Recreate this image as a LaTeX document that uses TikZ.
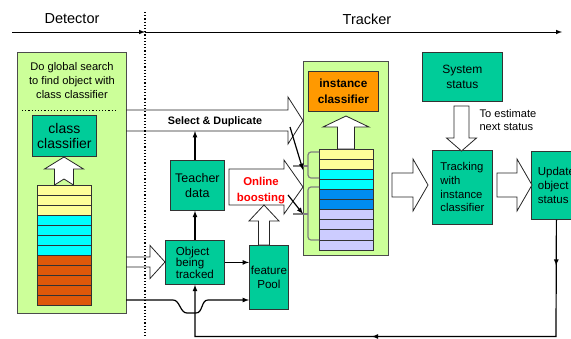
\documentclass[tikz,border=0pt]{standalone}
\usepackage{fontspec}
\setmainfont{Liberation Sans}
\usetikzlibrary{decorations.markings}

\definecolor{boxgreen}{RGB}{0,204,153}
\definecolor{panelgreen}{RGB}{204,255,153}
\definecolor{orangebox}{RGB}{255,153,0}
\definecolor{cyel}{RGB}{255,255,153}
\definecolor{ccyan}{RGB}{0,255,255}
\definecolor{cbrown}{RGB}{222,88,10}
\definecolor{cblue}{RGB}{0,140,240}
\definecolor{clav}{RGB}{204,204,255}
\newcommand{\fs}[2]{\fontsize{#1}{#2}\selectfont}

\begin{document}
\begin{tikzpicture}[x=1pt,y=-1pt,
    box/.style={draw=black!80,fill=boxgreen,line width=0.8pt,inner sep=0pt,anchor=north west,align=center},
    panel/.style={draw=black!70,fill=panelgreen,line width=0.8pt,inner sep=0pt,anchor=north west},
    hollow/.style={draw=black!85,line width=0.8pt},
    cell/.style={draw=black!80,line width=0.7pt},
    link/.style={-latex,line width=1.2pt},
    brace/.style={draw=gray,line width=1.2pt,rounded corners=3pt},
    feedback/.style={-latex,line width=1.2pt,postaction={decorate},
      decoration={markings,mark=at position 46pt with {\arrow{latex}},
        mark=at position 301pt with {\arrow{latex}}}}]
  \useasboundingbox (0,0) rectangle (571,338);

  % header
  \node[font=\fs{14.5}{16}] (detlbl) at (72,19) {Detector};
  \node[font=\fs{14.5}{16}] (trklbl) at (367,19) {Tracker};
  \coordinate (hl) at (12,32);
  \coordinate (hm) at (145,32);
  \coordinate (hr) at (562,32);
  \draw[-latex,line width=1pt] (hl) -- (hm);
  \draw[-latex,line width=1pt] (hm) -- (hr);

  % detector part
  \node[panel,minimum width=109pt,minimum height=261pt] (detbox) at (17,52) {};
  \node[align=center,font=\fs{11.1}{14}] (search) at (72,81)
    {Do global search\\to find object with\\class classifier};
  \draw[dotted,line width=1.2pt] (22,110.5) -- (116,110.5);
  \node[box,minimum width=64pt,minimum height=41pt,font=\fs{14}{15}] (cls) at (32,115) {class\\classifier};
  \foreach \c [count=\i from 0] in {cyel,cyel,cyel,ccyan,ccyan,ccyan,ccyan,cbrown,cbrown,cbrown,cbrown,cbrown}
    \draw[cell,fill=\c] (37,185+10*\i) rectangle ++(54,10);
  \draw[hollow,fill=white] (54.5,185) -- (54.5,169) -- (44.5,169) -- (64,157) -- (83.5,169)
    -- (73.5,169) -- (73.5,185) -- (64,179) -- cycle;

  % tracker part
  \node[panel,minimum width=85pt,minimum height=194pt] (instpanel) at (303,61) {};
  \node[box,fill=orangebox,minimum width=70pt,minimum height=40pt,font=\bfseries\fs{11.8}{16}] (inst) at (308,71)
    {instance\\classifier};
  \foreach \c [count=\i from 0] in {cyel,cyel,ccyan,ccyan,cblue,cblue,clav,clav,clav,clav}
    \draw[cell,fill=\c] (319,149+10.1*\i) rectangle ++(54,10.1);
  \draw[hollow,fill=white] (337.5,149) -- (337.5,127) -- (323,127) -- (346,116) -- (369,127)
    -- (354.5,127) -- (354.5,149) -- cycle;

  \node[box,minimum width=54pt,minimum height=50pt,font=\fs{12.5}{15}] (teach) at (170,160) {Teacher\\data};
  \node[box,minimum width=59pt,minimum height=44pt,align=left,font=\fs{11.6}{11.5}] (obj) at (165,240)
    {Object\\being\\tracked};
  \node[box,minimum width=39pt,minimum height=64pt,font=\fs{11.6}{14}] (feat) at (249,245) {feature\\Pool};
  \node[box,minimum width=80pt,minimum height=49pt,font=\fs{12}{15}] (sys) at (422,52) {System\\status};
  \node[box,minimum width=60pt,minimum height=74pt,align=left,font=\fs{11.3}{13.7}] (track) at (432,150)
    {Tracking\\with\\instance\\classifier};
  \node[box,minimum width=50pt,minimum height=68pt,align=left,font=\fs{11.5}{14}] (upd) at (531,151)
    {Update\\object\\status};

  % hollow arrows
  \draw[hollow] (126,110) -- (288,110) -- (288,97) -- (303,120.5) -- (288,144) -- (288,131) -- (126,131);
  \node[font=\bfseries\fs{10.8}{12}] (seldup) at (215,122) {Select \& Duplicate};
  \draw[hollow,fill=white] (229,169) -- (284,169) -- (284,160) -- (303,187) -- (284,214)
    -- (284,205) -- (229,205) -- cycle;
  \node[align=center,text=red,font=\bfseries\fs{11.4}{16}] (boost) at (261,191) {Online\\boosting};
  \draw[hollow,fill=white] (258.5,245) -- (258.5,221) -- (249,221) -- (264,205) -- (279,221)
    -- (269.5,221) -- (269.5,245) -- cycle;
  \draw[hollow] (126,257) -- (150,257) -- (150,245.5) -- (165,262) -- (150,278.5) -- (150,267) -- (126,267);
  \draw[hollow,fill=white] (392,173) -- (413,173) -- (413,159) -- (428,185) -- (413,211)
    -- (413,197) -- (392,197) -- cycle;
  \draw[hollow,fill=white] (497,173) -- (517,173) -- (517,159) -- (532,185) -- (517,211)
    -- (517,197) -- (497,197) -- cycle;
  \draw[hollow,fill=white] (454,106) -- (469,106) -- (469,138) -- (476.5,138) -- (461.5,151)
    -- (446.5,138) -- (454,138) -- cycle;
  \node[anchor=west,align=left,font=\fs{11.1}{13}] (estim) at (476,120.5) {To estimate\\next status};

  % braces
  \draw[brace] (319,152) -| (308,178) -- (319,178);
  \draw[brace] (293,166) -- (308,166);
  \draw[brace] (319,187) -| (308,240) -- (319,240);
  \draw[brace] (293,214) -- (308,214);

  % connectors
  \coordinate (sdbot) at (195,131);
  \coordinate (sdh) at (290,127);
  \coordinate (obh) at (288,195);
  \coordinate (b1) at (303,170);
  \coordinate (b2) at (303,214);
  \draw[link] (teach.north -| sdbot) -- (sdbot);
  \draw[link] (obj.north -| sdbot) -- (teach.south -| sdbot);
  \draw[link] (obj.east) -- (obj.east -| feat.west);
  \draw[link] (sdh) -- (b1);
  \draw[link] (obh) -- (b2);
  \coordinate (dp) at (126,300);
  \draw[link] (dp) -- ++(47,0) .. controls +(7,0) and +(-7,0) .. ++(14,13) -- ++(9,0)
    .. controls +(7,0) and +(-7,0) .. ++(12,-13) -- (feat.west |- dp);
  \coordinate (br) at (556,336.5);
  \coordinate (bl) at (195,336.5);
  \draw[feedback] (upd.south) -- (br) -- (bl) -- (obj.south -| bl);

  % separator
  \draw[dotted,line width=1.2pt] (145,12) -- (145,338);
\end{tikzpicture}
\end{document}
